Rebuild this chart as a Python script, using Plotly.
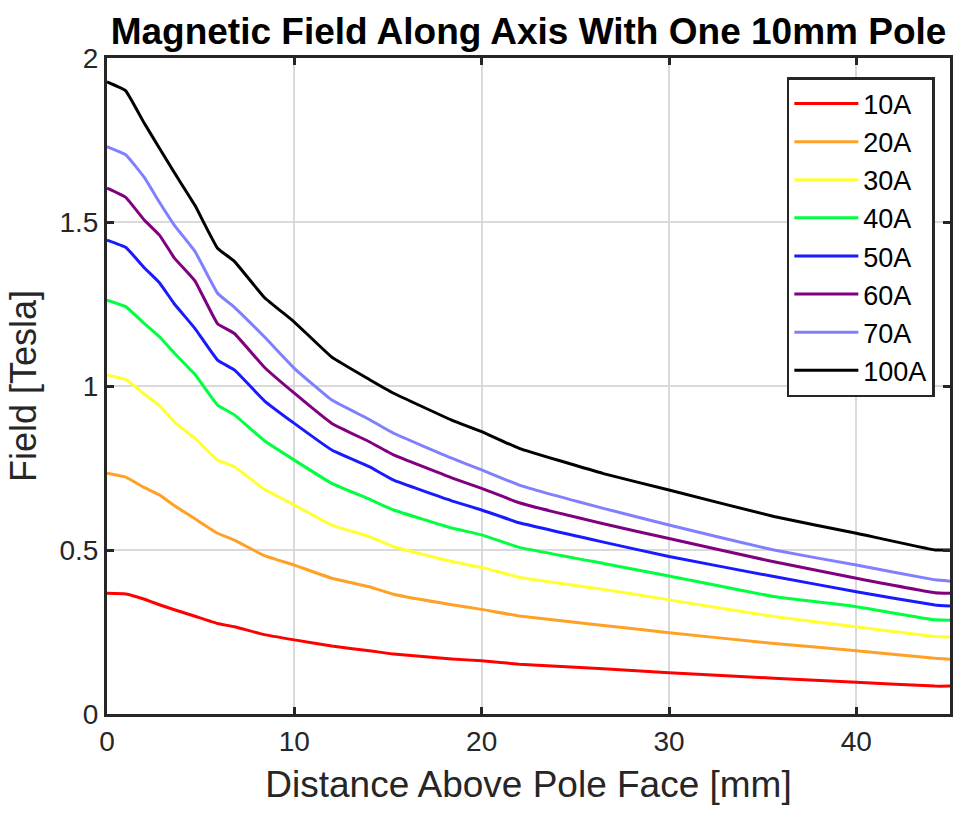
import plotly.graph_objects as go

# Distance above the pole face [mm]
distance_mm = [0, 1, 2, 2.8, 3.6, 4.7, 5.9, 6.8, 8.4, 10, 12, 14, 15.3, 18.4,
               20, 22, 26.5, 30, 35.6, 40, 44.2, 45]

# On-axis field [T] for each coil current
field_10A = [0.368, 0.366, 0.350, 0.333, 0.318, 0.298, 0.276, 0.266, 0.242, 0.226, 0.207,
             0.193, 0.183, 0.168, 0.162, 0.152, 0.138, 0.126, 0.109, 0.097, 0.085, 0.085]
field_20A = [0.734, 0.722, 0.690, 0.668, 0.635, 0.595, 0.551, 0.530, 0.483, 0.454, 0.414,
             0.388, 0.365, 0.333, 0.319, 0.299, 0.270, 0.248, 0.215, 0.193, 0.170, 0.167]
field_30A = [1.034, 1.020, 0.975, 0.940, 0.890, 0.840, 0.774, 0.754, 0.685, 0.637, 0.576,
             0.541, 0.510, 0.465, 0.447, 0.417, 0.380, 0.348, 0.297, 0.266, 0.236, 0.235]
field_40A = [1.262, 1.242, 1.190, 1.150, 1.100, 1.035, 0.942, 0.912, 0.833, 0.774, 0.703,
             0.655, 0.622, 0.567, 0.546, 0.508, 0.459, 0.421, 0.358, 0.327, 0.287, 0.286]
field_50A = [1.445, 1.423, 1.360, 1.315, 1.250, 1.175, 1.079, 1.049, 0.955, 0.886, 0.805,
             0.754, 0.713, 0.650, 0.622, 0.583, 0.524, 0.480, 0.419, 0.373, 0.332, 0.329]
field_60A = [1.603, 1.575, 1.505, 1.460, 1.390, 1.320, 1.190, 1.160, 1.057, 0.978, 0.886,
             0.830, 0.790, 0.720, 0.688, 0.644, 0.580, 0.535, 0.464, 0.414, 0.370, 0.368]
field_70A = [1.730, 1.705, 1.635, 1.560, 1.490, 1.410, 1.283, 1.240, 1.150, 1.054, 0.957,
             0.898, 0.856, 0.780, 0.744, 0.698, 0.627, 0.576, 0.500, 0.454, 0.409, 0.405]
field_100A = [1.927, 1.900, 1.800, 1.725, 1.650, 1.550, 1.420, 1.380, 1.270, 1.195, 1.088,
              1.020, 0.978, 0.896, 0.861, 0.810, 0.733, 0.683, 0.602, 0.551, 0.500, 0.500]

series_names = ["10A", "20A", "30A", "40A", "50A", "60A", "70A", "100A"]
series_values = [field_10A, field_20A, field_30A, field_40A,
                 field_50A, field_60A, field_70A, field_100A]
series_colors = ["#ff0000", "#ffa126", "#ffff33", "#00ff40",
                 "#1a1aff", "#800080", "#8080ff", "#000000"]

y_ticks = [0, 0.5, 1, 1.5, 2]
y_tick_text = ["0", "0.5", "1", "1.5", "2"]
x_ticks = [0, 10, 20, 30, 40]

FONT = "Liberation Sans, Arial, Helvetica, sans-serif"
INK = "#262626"

fig = go.Figure()
for name, vals, col in zip(series_names, series_values, series_colors):
    fig.add_trace(go.Scatter(
        x=distance_mm, y=vals, name=name, mode="lines",
        line=dict(color=col, width=3, shape="spline", smoothing=0.3),
    ))

axis_common = dict(
    showline=True, linecolor=INK, linewidth=3, mirror="ticks",
    ticks="inside", ticklen=7, tickwidth=2.5, tickcolor=INK,
    showgrid=True, gridcolor="#dadada", gridwidth=2,
    zeroline=False, tickfont=dict(family=FONT, size=28, color=INK),
)

fig.update_layout(
    width=958, height=815,
    margin=dict(l=107, r=5, t=58, b=101),
    paper_bgcolor="white", plot_bgcolor="white",
    title=dict(
        text="<b>Magnetic Field Along Axis With One 10mm Pole</b>",
        font=dict(family=FONT, size=37, color="black"),
        x=0.5, xref="paper", xanchor="center",
        y=0.962, yref="container", yanchor="middle",
    ),
    xaxis=dict(
        range=[0, 45], tickvals=x_ticks,
        title=dict(text="Distance Above Pole Face [mm]",
                   font=dict(family=FONT, size=37, color=INK), standoff=16),
        **axis_common,
    ),
    yaxis=dict(
        range=[0, 2], tickvals=y_ticks, ticktext=y_tick_text,
        title=dict(text="Field [Tesla]",
                   font=dict(family=FONT, size=36, color=INK), standoff=12),
        **axis_common,
    ),
    legend=dict(
        x=0.982, y=0.971, xanchor="right", yanchor="top",
        bgcolor="white", bordercolor=INK, borderwidth=2.5,
        font=dict(family=FONT, size=27, color="black"),
        tracegroupgap=0, itemwidth=64,
    ),
    showlegend=True,
)

fig.write_html("out.html")
